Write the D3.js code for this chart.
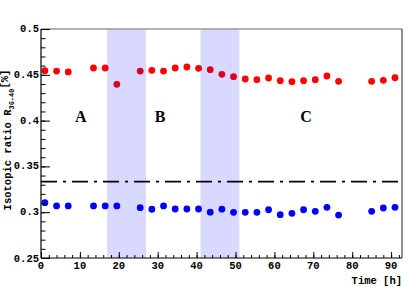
<!DOCTYPE html>
<html>
<head>
<meta charset="utf-8">
<script src="https://cdn.jsdelivr.net/npm/d3@7"></script>
<style>
  html, body { margin: 0; padding: 0; background: #fff; }
  svg { display: block; }
  text { font-family: "Liberation Mono", "DejaVu Sans Mono", monospace; font-weight: bold; fill: #000; }
</style>
</head>
<body>
<svg id="chart" width="415" height="287"></svg>
<script>
// measurement times [h]
const times = [1, 4, 7, 13.5, 16.5, 19.5, 25.5, 28.5, 31.5, 34.5, 37.5, 40.5, 43.5, 46.5,
  49.5, 52.5, 55.5, 58.5, 61.5, 64.5, 67.5, 70.5, 73.5, 76.5, 85, 88, 91];
const redRatio = [0.4545, 0.4541, 0.4531, 0.4574, 0.4574, 0.4396, 0.4541, 0.4549, 0.4541, 0.4574,
  0.4585, 0.4571, 0.4556, 0.4505, 0.4479, 0.4454, 0.4447, 0.4465, 0.4436, 0.4425, 0.4436,
  0.4447, 0.4487, 0.4429, 0.4429, 0.4440, 0.4468];
const blueRatio = [0.3104, 0.3068, 0.3068, 0.3068, 0.3068, 0.3068, 0.3049, 0.3032, 0.3068, 0.3035,
  0.3035, 0.3035, 0.3000, 0.3033, 0.2999, 0.2999, 0.2999, 0.3027, 0.2973, 0.2988, 0.3027,
  0.3010, 0.3053, 0.2969, 0.3010, 0.3046, 0.3053];
const bands = [[17, 27], [41, 51]];
const regions = [
  { label: 'A', t: 10.2 },
  { label: 'B', t: 30.6 },
  { label: 'C', t: 68.1 }
];
const refRatio = 1 / 3;
const xTicks = [0, 10, 20, 30, 40, 50, 60, 70, 80, 90];
const yTicks = [0.25, 0.3, 0.35, 0.4, 0.45, 0.5];

const svg = d3.select('#chart');
const padL = 41, padR = 402, padT = 29, padB = 258;

const x = d3.scaleLinear().domain([0, 92.8]).range([padL, padR]);
const y = d3.scaleLinear().domain([0.25, 0.5]).range([padB, padT]);

const redPts = times.map((t, i) => ({ t, v: redRatio[i] }));
const bluePts = times.map((t, i) => ({ t, v: blueRatio[i] }));

svg.append('g').selectAll('circle')
  .data(redPts)
  .enter()
  .append('circle')
  .attr('cx', d => x(d.t))
  .attr('cy', d => y(d.v))
  .attr('r', 3.4)
  .attr('fill', '#ff0000');

svg.append('g').selectAll('circle')
  .data(bluePts)
  .enter()
  .append('circle')
  .attr('cx', d => x(d.t))
  .attr('cy', d => y(d.v))
  .attr('r', 3.4)
  .attr('fill', '#0000ff');

// shaded periods (drawn over the markers, semi-transparent)
svg.append('g').selectAll('rect')
  .data(bands)
  .enter()
  .append('rect')
  .attr('x', d => x(d[0]))
  .attr('width', d => x(d[1]) - x(d[0]))
  .attr('y', padT)
  .attr('height', padB - padT)
  .attr('fill', 'rgba(0,0,255,0.15)');

// reference line
svg.append('line')
  .attr('x1', padL)
  .attr('x2', padR)
  .attr('y1', y(refRatio))
  .attr('y2', y(refRatio))
  .attr('stroke', '#000')
  .attr('stroke-width', 1.6)
  .attr('stroke-dasharray', '16,6,3,6');

// region labels
svg.append('g').selectAll('text')
  .data(regions)
  .enter()
  .append('text')
  .attr('x', d => x(d.t))
  .attr('y', y(0.405))
  .attr('text-anchor', 'middle')
  .attr('dominant-baseline', 'central')
  .style('font-family', '"Liberation Serif", "DejaVu Serif", serif')
  .style('font-size', '16px')
  .text(d => d.label);

// frame top and right
svg.append('line')
  .attr('x1', padL).attr('x2', padR)
  .attr('y1', padT).attr('y2', padT)
  .attr('stroke', '#999').attr('stroke-width', 1.5);
svg.append('line')
  .attr('x1', padR).attr('x2', padR)
  .attr('y1', padT).attr('y2', padB)
  .attr('stroke', '#444').attr('stroke-width', 1.2);

// x axis: minor + major ticks pointing up
const xAxisG = svg.append('g').attr('transform', `translate(0,${padB})`);
xAxisG.append('g')
  .call(d3.axisTop(x).tickValues(d3.range(0, 93, 2)).tickSize(3).tickFormat(''))
  .call(g => g.select('.domain').remove());
xAxisG.append('g')
  .call(d3.axisTop(x).tickValues(xTicks).tickSize(6).tickFormat(''))
  .call(g => g.select('.domain').remove());
xAxisG.append('line')
  .attr('x1', padL).attr('x2', padR)
  .attr('stroke', '#000').attr('stroke-width', 1.2);
xAxisG.selectAll('.tick line').attr('stroke', '#000');
xAxisG.append('g').selectAll('text')
  .data(xTicks)
  .enter()
  .append('text')
  .attr('x', d => x(d))
  .attr('y', 8)
  .attr('text-anchor', 'middle')
  .attr('dominant-baseline', 'central')
  .style('font-size', '10.5px')
  .text(d => d);

svg.append('text')
  .attr('x', padR)
  .attr('y', 281)
  .attr('text-anchor', 'end')
  .attr('dominant-baseline', 'central')
  .style('font-size', '10.5px')
  .text('Time [h]');

// y axis: minor + major ticks pointing right
const yAxisG = svg.append('g').attr('transform', `translate(${padL},0)`);
yAxisG.append('g')
  .call(d3.axisRight(y).tickValues(d3.range(25, 51).map(v => v / 100)).tickSize(4.5).tickFormat(''))
  .call(g => g.select('.domain').remove());
yAxisG.append('g')
  .call(d3.axisRight(y).tickValues(yTicks).tickSize(9).tickFormat(''))
  .call(g => g.select('.domain').remove());
yAxisG.append('line')
  .attr('y1', padT).attr('y2', padB)
  .attr('stroke', '#000').attr('stroke-width', 1.2);
yAxisG.selectAll('.tick line').attr('stroke', '#000');
yAxisG.append('g').selectAll('text')
  .data(yTicks)
  .enter()
  .append('text')
  .attr('x', -2)
  .attr('y', d => y(d) + (d === 0.25 ? 1 : 0))
  .attr('text-anchor', 'end')
  .attr('dominant-baseline', 'central')
  .style('font-size', '10.5px')
  .text(d => d);

// y title
const yTitle = svg.append('text')
  .attr('transform', `translate(11,${140}) rotate(-90)`)
  .attr('text-anchor', 'middle')
  .style('font-size', '10.5px');
yTitle.append('tspan').text('Isotopic ratio R');
yTitle.append('tspan').attr('dy', 3).style('font-size', '7px').text('36-40');
yTitle.append('tspan').attr('dy', -6).text('[%]');
</script>
</body>
</html>
